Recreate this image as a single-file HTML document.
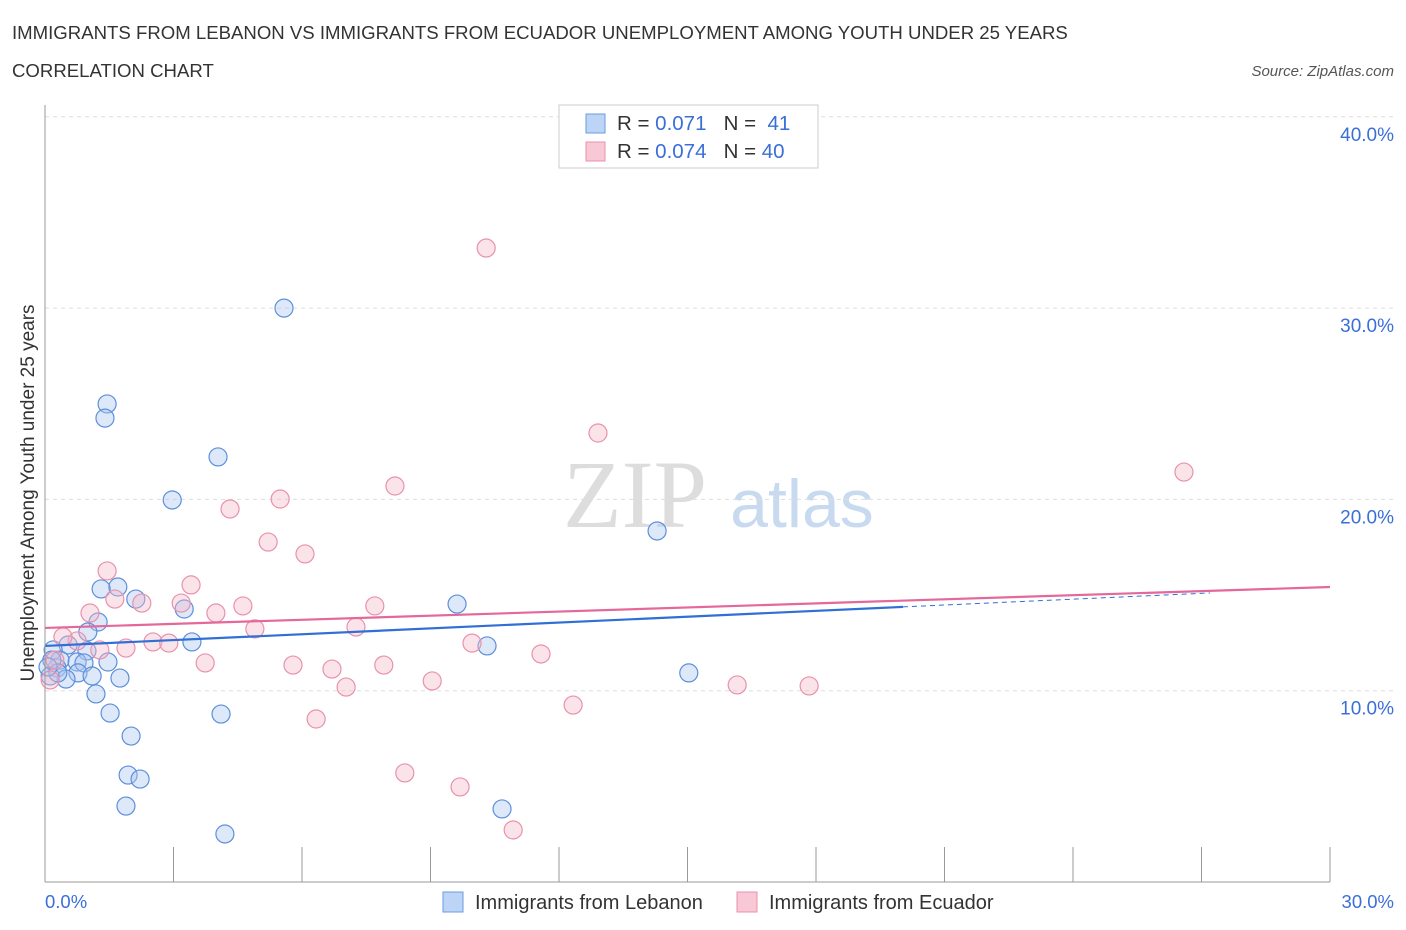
<!DOCTYPE html>
<html><head><meta charset="utf-8"><style>
body{margin:0;background:#fff;font-family:"Liberation Sans",sans-serif}
svg{display:block}
</style></head><body>
<svg id="c" width="1406" height="930">
<text x="12" y="39" font-size="18.6" fill="#333">IMMIGRANTS FROM LEBANON VS IMMIGRANTS FROM ECUADOR UNEMPLOYMENT AMONG YOUTH UNDER 25 YEARS</text>
<text x="12" y="77" font-size="18.6" fill="#333">CORRELATION CHART</text>
<text x="1394" y="76" font-size="15" fill="#555" font-style="italic" text-anchor="end">Source: ZipAtlas.com</text>
<text x="635" y="527" font-size="96" fill="#ddd" font-family="Liberation Serif,serif" text-anchor="middle">ZIP</text>
<text x="802" y="527" font-size="68" fill="#c8daf0" text-anchor="middle">atlas</text>
<g id="grid"></g><g id="pts"></g><g id="lines"></g>
<line x1="45" y1="105" x2="45" y2="882" stroke="#999"/>
<line x1="45" y1="882" x2="1330" y2="882" stroke="#999"/>
<text transform="translate(34,493) rotate(-90)" font-size="19" fill="#333" text-anchor="middle">Unemployment Among Youth under 25 years</text>
<text x="45" y="908" font-size="18.5" fill="#3a6fd8">0.0%</text>
<text x="1394" y="908" font-size="18.5" fill="#3a6fd8" text-anchor="end">30.0%</text>
<g>
<rect x="559" y="105" width="259" height="63" fill="#fff" stroke="#ccc"/>
<rect x="586" y="114" width="19" height="19" fill="#bcd4f5" stroke="#6d9be0"/>
<rect x="586" y="142" width="19" height="19" fill="#f8c8d6" stroke="#e892ac"/>
<text x="617" y="130" font-size="20.5" fill="#333">R = <tspan fill="#3a6fd8">0.071</tspan>&#160;&#160; N = &#160;<tspan fill="#3a6fd8">41</tspan></text>
<text x="617" y="158" font-size="20.5" fill="#333">R = <tspan fill="#3a6fd8">0.074</tspan>&#160;&#160; N = <tspan fill="#3a6fd8">40</tspan></text>
</g>
<g>
<rect x="443" y="892" width="20" height="20" fill="#bcd4f5" stroke="#6d9be0"/>
<text x="475" y="909" font-size="20" fill="#333">Immigrants from Lebanon</text>
<rect x="737" y="892" width="20" height="20" fill="#f8c8d6" stroke="#e892ac"/>
<text x="769" y="909" font-size="20" fill="#333">Immigrants from Ecuador</text>
</g>
</svg>
<script>
const yTicks=[10,20,30,40];
const yTickLabels=["10.0%","20.0%","30.0%","40.0%"];
const xTicks=[0,3,6,9,12,15,18,21,24,27,30];
const lebX=[5.58,1.45,1.40,4.04,2.97,14.29,1.70,1.31,2.12,3.25,9.62,1.24,1.00,3.43,10.32,0.54,0.19,0.98,0.35,0.75,1.47,0.91,0.28,0.77,1.10,1.75,0.49,0.12,15.03,1.19,1.52,4.11,2.01,1.94,2.22,1.89,10.67,4.20,0.16,0.30,0.07];
const lebY=[30.0,24.99,24.25,22.22,19.97,18.35,15.42,15.32,14.79,14.27,14.53,13.59,13.07,12.55,12.34,12.39,12.13,12.08,11.60,11.50,11.50,11.45,11.19,10.93,10.77,10.66,10.61,10.77,10.93,9.83,8.83,8.78,7.63,5.59,5.38,3.97,3.82,2.51,11.60,10.93,11.24];
const ecuX=[10.30,12.91,26.59,8.17,5.49,4.32,5.21,6.07,1.45,3.41,1.63,2.26,3.18,7.70,4.62,1.05,3.99,4.90,7.26,2.52,2.89,9.97,1.89,0.75,0.42,11.58,1.28,3.74,5.79,7.91,6.70,7.03,9.04,16.16,17.84,12.33,6.33,8.40,9.69,10.93,0.12,0.23];
const ecuY=[33.14,23.47,21.43,20.70,20.02,19.50,17.77,17.15,16.26,15.53,14.79,14.58,14.58,14.43,14.43,14.06,14.06,13.23,13.33,12.55,12.49,12.49,12.23,12.60,12.81,11.92,12.13,11.45,11.34,11.34,11.13,10.19,10.51,10.30,10.25,9.25,8.52,5.70,4.97,2.72,10.56,11.60];
const lebTrend=[12.34,14.38];const lebTrendX=[0,20.03,27.2];
const ecuTrend=[13.28,15.42];const ecuTrendX=[0,30];
const X=v=>45+v*1285/30, Y=v=>882-v*19.13;
const NS="http://www.w3.org/2000/svg";
function mk(t,a,p){const e=document.createElementNS(NS,t);for(const k in a)e.setAttribute(k,a[k]);p.appendChild(e);return e;}
const g=document.getElementById('grid');
yTicks.forEach((t,i)=>{
 const l=mk('line',{x1:45,x2:1394,y1:Y(t),y2:Y(t),stroke:'#ddd','stroke-dasharray':'4,4'},g);
 
 
 const tx=mk('text',{x:1394,y:Y(t)+24,'font-size':19,fill:'#3a6fd8','text-anchor':'end'},g);
 tx.textContent=yTickLabels[i];
 
 
});
xTicks.forEach(t=>{
 const l=mk('line',{x1:X(t),x2:X(t),y1:847,y2:882,stroke:'#999'},g);
 
 
});
const p=document.getElementById('pts');
function pts(xs,ys,fill,stroke,name){xs.forEach((x,i)=>{
 const c=mk('circle',{cx:X(x),cy:Y(ys[i]),r:9,fill:fill,'fill-opacity':0.4,stroke:stroke,'stroke-width':1.2},p);
 
 
});}
pts(lebX,lebY,'#a9c6ef','#5d8fdc','lebanon-point');
pts(ecuX,ecuY,'#f6b8cb','#e892ac','ecuador-point');
const L=document.getElementById('lines');
const slope=(lebTrend[1]-lebTrend[0])/(lebTrendX[1]-lebTrendX[0]);
const b1=mk('line',{x1:X(0),y1:Y(lebTrend[0]),x2:X(lebTrendX[1]),y2:Y(lebTrend[1]),stroke:'#2f6fd6','stroke-width':2.2},L);


const b2=mk('line',{x1:X(lebTrendX[1]),y1:Y(lebTrend[1]),x2:X(lebTrendX[2]),y2:Y(lebTrend[0]+slope*lebTrendX[2]),stroke:'#2f6fd6','stroke-width':1,'stroke-dasharray':'5,4'},L);


const e1=mk('line',{x1:X(ecuTrendX[0]),y1:Y(ecuTrend[0]),x2:X(ecuTrendX[1]),y2:Y(ecuTrend[1]),stroke:'#e4689a','stroke-width':2.2},L);


</script>
</body></html>
